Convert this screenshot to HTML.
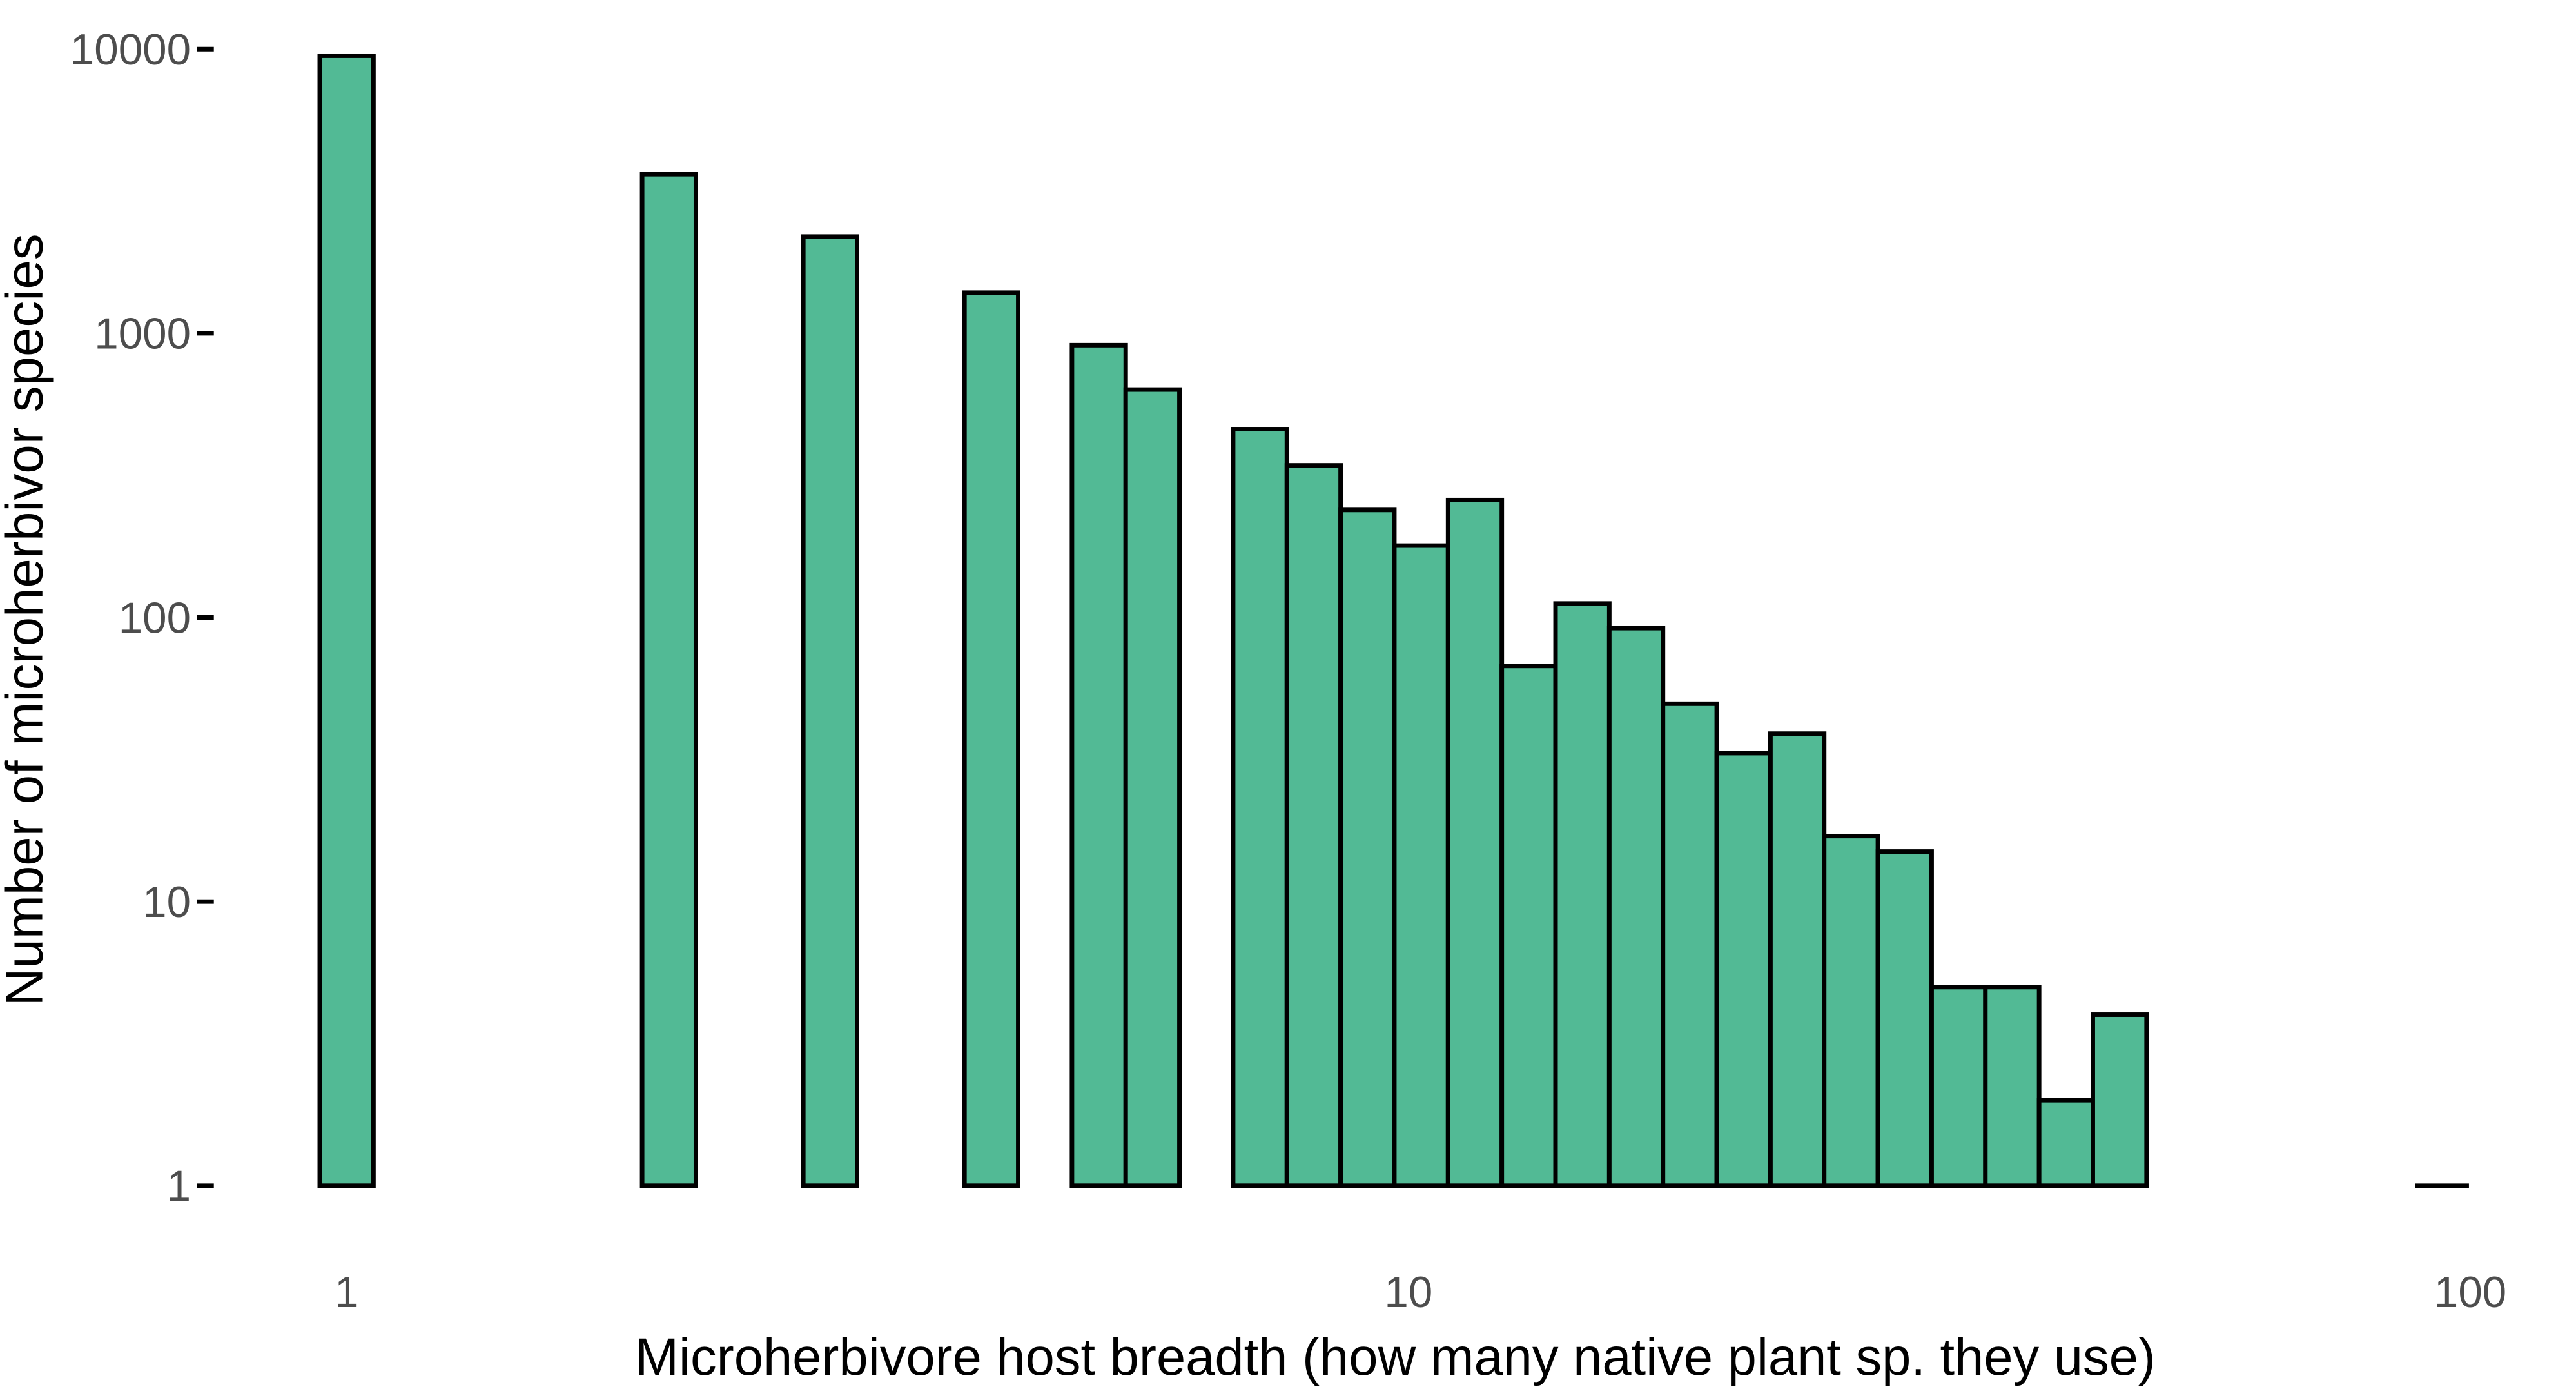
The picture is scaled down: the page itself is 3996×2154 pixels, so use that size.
<!DOCTYPE html>
<html><head><meta charset="utf-8"><style>
html,body{margin:0;padding:0;background:#fff;}
svg{display:block;}
text{font-family:"Liberation Sans Narrow","Liberation Sans",sans-serif;}
</style></head><body>
<svg id="chart" width="3996" height="2154" viewBox="0 0 3996 2154" xmlns="http://www.w3.org/2000/svg">
<g transform="scale(0.9902)">
<g id="bars"></g>
<g id="yaxis"></g>
<g id="xaxis"></g>
<text x="2186" y="2153" font-size="82" text-anchor="middle" textLength="2382" lengthAdjust="spacingAndGlyphs" fill="#000">Microherbivore host breadth (how many native plant sp. they use)</text>
<text transform="translate(66,971) rotate(-90)" font-size="82" text-anchor="middle" textLength="1210" lengthAdjust="spacingAndGlyphs" fill="#000">Number of microherbivor species</text>
</g>
</svg>
<script>
const binIndex = [0,6,9,12,14,15,17,18,19,20,21,22,23,24,25,26,27,28,29,30,31,32,33,39];
const counts = [9480,3630,2190,1390,908,634,460,343,239,179,259,67.5,112,91.7,49.7,33.3,39,17,15,5,5,2,4,1];
const yTicks = [1,10,100,1000,10000];
const yTickLabels = ["1","10","100","1000","10000"];
const xTicks = [1,10,100];
const xTickLabels = ["1","10","100"];
const binWidthLog = 0.0506;

const NS = "http://www.w3.org/2000/svg";
const xScale = v => 543 + Math.log10(v) * 1663.5;
const xLog = l => 543 + l * 1663.5;
const yScale = v => 1857 - Math.log10(v) * 445;

const bars = document.getElementById('bars');
binIndex.forEach((k, i) => {
  const c = k * binWidthLog;
  const x0 = xLog(c - binWidthLog / 2), x1 = xLog(c + binWidthLog / 2);
  const yt = yScale(counts[i]), yb = yScale(1);
  if (yb - yt < 1) {
    const l = document.createElementNS(NS, 'line');
    
    
    l.setAttribute('x1', x0); l.setAttribute('x2', x1); l.setAttribute('y1', yb); l.setAttribute('y2', yb);
    l.setAttribute('stroke', '#000'); l.setAttribute('stroke-width', '7');
    bars.appendChild(l);
    return;
  }
  const r = document.createElementNS(NS, 'rect');
  
  
  r.setAttribute('x', x0); r.setAttribute('y', yt);
  r.setAttribute('width', x1 - x0); r.setAttribute('height', yb - yt);
  r.setAttribute('fill', '#52BA95'); r.setAttribute('stroke', '#000'); r.setAttribute('stroke-width', '7');
  bars.appendChild(r);
});

const ya = document.getElementById('yaxis');
yTicks.forEach((v, i) => {
  const y = yScale(v);
  const l = document.createElementNS(NS, 'line');
  
  
  l.setAttribute('x1', 309); l.setAttribute('x2', 335); l.setAttribute('y1', y); l.setAttribute('y2', y);
  l.setAttribute('stroke', '#000'); l.setAttribute('stroke-width', '7');
  ya.appendChild(l);
  const t = document.createElementNS(NS, 'text');
  
  
  t.setAttribute('x', 299); t.setAttribute('y', y + 24);
  t.setAttribute('text-anchor', 'end'); t.setAttribute('font-size', '68'); t.setAttribute('fill', '#4d4d4d');
  t.textContent = yTickLabels[i];
  ya.appendChild(t);
});

const xa = document.getElementById('xaxis');
xTicks.forEach((v, i) => {
  const t = document.createElementNS(NS, 'text');
  
  
  t.setAttribute('x', xScale(v)); t.setAttribute('y', 2047);
  t.setAttribute('text-anchor', 'middle'); t.setAttribute('font-size', '68'); t.setAttribute('fill', '#4d4d4d');
  t.textContent = xTickLabels[i];
  xa.appendChild(t);
});
</script>
</body></html>
